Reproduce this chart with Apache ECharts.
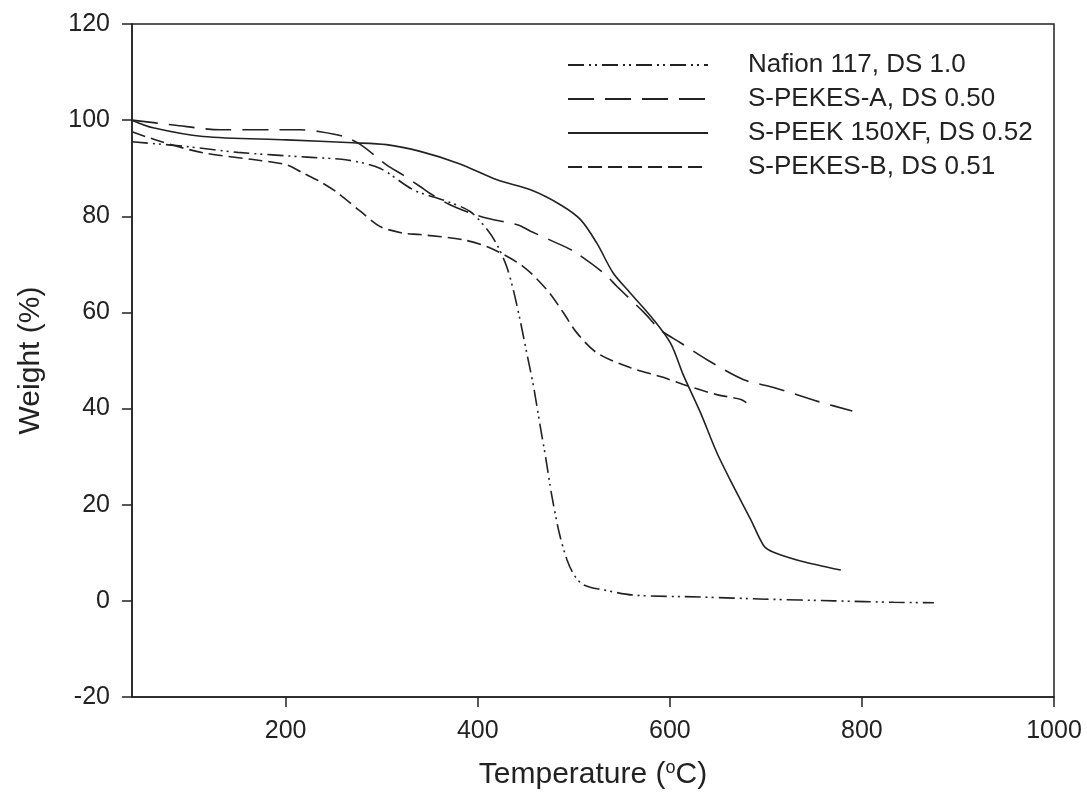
<!DOCTYPE html>
<html><head><meta charset="utf-8">
<script src="https://cdn.jsdelivr.net/npm/echarts@6/dist/echarts.min.js"></script>
<style>html,body{margin:0;padding:0;background:#fff}#c{width:1087px;height:795px}</style>
</head><body><div id="c"></div>
<script>
const seriesNames = ['Nafion 117, DS 1.0', 'S-PEKES-A, DS 0.50', 'S-PEEK 150XF, DS 0.52', 'S-PEKES-B, DS 0.51'];
const xTicks = [200, 400, 600, 800, 1000];

const nafionT = [40, 97, 150, 222, 264, 298, 333, 368, 392, 410, 420, 430, 437, 444, 451, 458, 465, 471, 477, 485, 493, 500, 508, 518, 528, 562, 632, 701, 771, 833, 875];
const nafionW = [95.5, 94.5, 93.3, 92.3, 91.7, 90, 85.5, 83.1, 81, 77.2, 74.1, 69.6, 64.7, 58.5, 51.6, 44.7, 36.4, 29.5, 22, 14, 8.5, 5.5, 3.6, 2.8, 2.4, 1.2, 0.8, 0.35, 0, -0.3, -0.4];

const pekesAT = [40, 83, 132, 215, 236, 260, 278, 305, 322, 340, 350, 370, 392, 410, 442, 455, 486, 500, 531, 545, 573, 590, 611, 640, 677, 708, 754, 790];
const pekesAW = [100, 99, 98, 98, 97.6, 96.6, 94.9, 90.7, 88.6, 86.2, 84.8, 82.5, 80.7, 79.6, 78.2, 76.9, 74.1, 72.7, 68.2, 65.4, 60, 56.4, 53.7, 50, 46, 44.4, 41.5, 39.5];

const peekT = [40, 62, 114, 201, 270, 305, 340, 380, 420, 455, 486, 507, 524, 541, 559, 583, 601, 614, 632, 649, 666, 684, 698, 708, 736, 778];
const peekW = [100, 98.4, 96.6, 95.9, 95.3, 94.9, 93.5, 91, 87.6, 85.5, 82.4, 79.3, 74.4, 68.2, 64, 58.5, 53.5, 47, 39.1, 30.8, 23.9, 17, 11.4, 10.1, 8.3, 6.4];

const pekesBT = [40, 69, 114, 166, 201, 218, 236, 254, 278, 298, 322, 340, 385, 413, 447, 472, 489, 503, 524, 559, 593, 614, 649, 674, 682];
const pekesBW = [97.6, 95.6, 93.2, 91.8, 90.7, 89, 87.2, 84.9, 81, 77.9, 76.5, 76.2, 75.1, 73.4, 69.6, 64.7, 60, 55.8, 51.6, 48.5, 46.5, 45, 42.9, 41.9, 40.9];

const zip = (a, b) => a.map((v, i) => [v, b[i]]);
const ink = '#222';
const font = 'Liberation Sans, Arial, sans-serif';
const dashes = [[16, 5, 2, 4, 2, 5], [26, 11], 'solid', [14, 6]];
const datasets = [zip(nafionT, nafionW), zip(pekesAT, pekesAW), zip(peekT, peekW), zip(pekesBT, pekesBW)];

const chart = echarts.init(document.getElementById('c'), null, {renderer: 'canvas'});
chart.setOption({
  animation: false,
  backgroundColor: '#fff',
  grid: {left: 132, right: 33, top: 24, bottom: 97, show: true, borderColor: ink, borderWidth: 1.5, backgroundColor: 'transparent'},
  legend: {
    show: true, orient: 'vertical', left: 567, top: 52, padding: 0, itemWidth: 140, itemHeight: 14, itemGap: 8,
    data: seriesNames,
    itemStyle: {opacity: 0},
    textStyle: {fontFamily: font, fontSize: 26, color: ink, padding: [0, 0, 0, 35]}
  },
  xAxis: {
    type: 'value', min: 40, max: 1000,
    name: 'Temperature ({sup|o}C)', nameLocation: 'middle', nameGap: 62,
    nameTextStyle: {fontFamily: font, fontSize: 30, color: ink, rich: {sup: {fontFamily: font, fontSize: 18, color: ink, verticalAlign: 'top', padding: [0, 0, 14, 0]}}},
    axisLine: {onZero: false, lineStyle: {color: ink, width: 1.5}},
    axisTick: {show: true, length: 10, inside: false, customValues: xTicks, lineStyle: {color: ink, width: 1.5}},
    axisLabel: {customValues: xTicks, formatter: v => String(v), fontFamily: font, fontSize: 25, color: ink, margin: 22},
    splitLine: {show: false}
  },
  yAxis: {
    type: 'value', min: -20, max: 120, interval: 20,
    name: 'Weight (%)', nameLocation: 'middle', nameGap: 86,
    nameTextStyle: {fontFamily: font, fontSize: 30, color: ink},
    axisLine: {show: true, onZero: false, lineStyle: {color: ink, width: 1.5}},
    axisTick: {show: true, length: 10, lineStyle: {color: ink, width: 1.5}},
    axisLabel: {fontFamily: font, fontSize: 25, color: ink, margin: 22},
    splitLine: {show: false}
  },
  series: seriesNames.map((n, i) => ({
    name: n, type: 'line', data: datasets[i], smooth: 0.3, showSymbol: false, symbol: 'none',
    lineStyle: {color: ink, width: 1.6, type: dashes[i]},
    itemStyle: {color: ink}
  }))
});
</script>
</body></html>
